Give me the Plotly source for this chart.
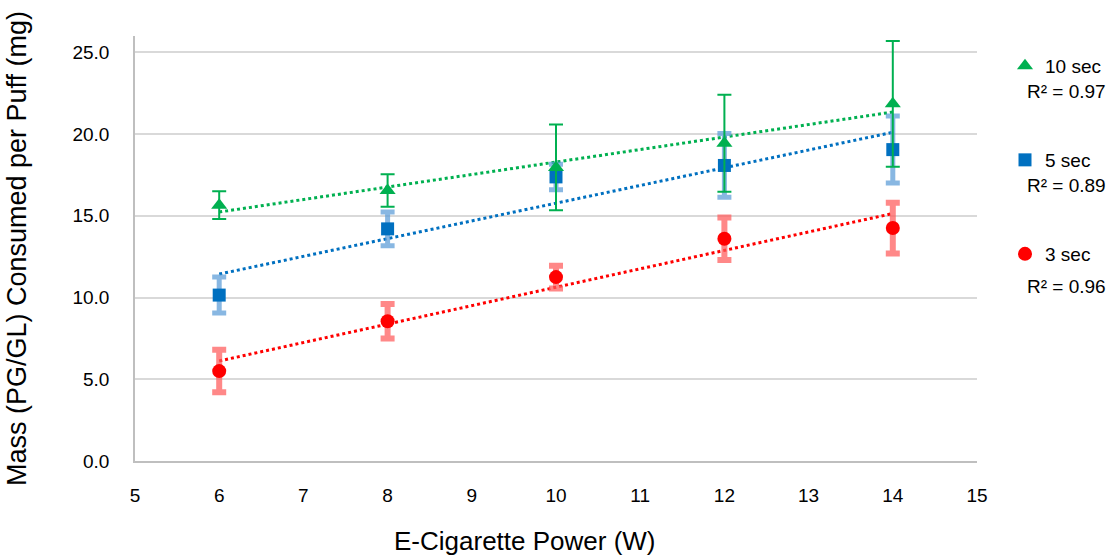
import numpy as np
import plotly.graph_objects as go

# E-cigarette power settings (W)
power = [6, 8, 10, 12, 14]

# Mean mass consumed per puff (mg) and standard deviations, by puff duration
mass_3s = [5.5, 8.55, 11.25, 13.6, 14.25]
err_3s = [1.3, 1.05, 0.7, 1.3, 1.55]

mass_5s = [10.15, 14.2, 17.38, 18.08, 19.05]
err_5s = [1.1, 1.03, 0.78, 1.95, 2.05]

mass_10s = [15.65, 16.55, 17.96, 19.44, 21.85]
err_10s = [0.85, 1.0, 2.62, 2.97, 3.85]

series_names = ["3 sec", "5 sec", "10 sec"]
r2_labels = ["R² = 0.96", "R² = 0.89", "R² = 0.97"]

y_ticks = [0, 5, 10, 15, 20, 25]
x_ticks = list(range(5, 16))

FONT = "Liberation Sans, Arial, sans-serif"
GREEN = "#00b050"
BLUE = "#0070c0"
RED = "#ff0000"

# plot-area geometry in pixels
W, H = 1110, 558
ML, MR, MT, MB = 135, 133, 36, 97
PW, PH = W - ML - MR, H - MT - MB

fig = go.Figure()

series = [
    (mass_3s, err_3s, RED, "rgba(255,90,90,0.72)", 6, "circle", 14, "legend3"),
    (mass_5s, err_5s, BLUE, "rgba(90,155,215,0.72)", 5, "square", 13, "legend2"),
    (mass_10s, err_10s, GREEN, GREEN, 2, "triangle-up", 14, "legend"),
]

# Linear trend lines (dotted), fitted to the mean values
for (ys, _, color, *_rest) in series:
    slope, intercept = np.polyfit(power, ys, 1)
    xs = np.array([power[0], power[-1]])
    fig.add_trace(go.Scatter(
        x=xs, y=slope * xs + intercept, mode="lines",
        line=dict(color=color, width=3, dash="dot"),
        showlegend=False, hoverinfo="skip",
    ))

# Mean values with error bars
for name, (ys, errs, color, ecolor, ethick, symbol, msize, leg) in zip(series_names, series):
    fig.add_trace(go.Scatter(
        x=power, y=ys, mode="markers", name=name,
        marker=dict(color=color, symbol=symbol, size=msize, line=dict(width=0)),
        error_y=dict(type="data", array=errs, visible=True,
                     color=ecolor, thickness=ethick, width=7),
        legend=leg,
    ))

legend_common = dict(
    font=dict(family=FONT, size=19, color="#000000"),
    bgcolor="rgba(0,0,0,0)", borderwidth=0,
    xref="container", yref="container",
    xanchor="left", yanchor="middle",
    itemwidth=30, tracegroupgap=0,
)
LEG_X = 1005 / W

fig.update_layout(
    width=W, height=H,
    margin=dict(l=ML, r=MR, t=MT, b=MB, autoexpand=False),
    paper_bgcolor="white", plot_bgcolor="white",
    font=dict(family=FONT, size=19, color="#000000"),
    legend=dict(x=LEG_X, y=1 - 66 / H, **legend_common),
    legend2=dict(x=LEG_X, y=1 - 160 / H, **legend_common),
    legend3=dict(x=LEG_X, y=1 - 254 / H, **legend_common),
    xaxis=dict(
        range=[5, 15], tickvals=x_ticks, showgrid=False, zeroline=False,
        showline=True, linecolor="#bfbfbf", linewidth=1.5,
        ticks="", ticklabelstandoff=16, automargin=False,
        tickfont=dict(family=FONT, size=19),
    ),
    yaxis=dict(
        range=[0, 26], tickvals=y_ticks, tickformat=".1f",
        showgrid=True, gridcolor="#d9d9d9", gridwidth=2, zeroline=False,
        showline=True, linecolor="#bfbfbf", linewidth=1.5,
        ticks="", ticklabelstandoff=20, automargin=False,
        tickfont=dict(family=FONT, size=19),
        title=dict(text="Mass (PG/GL) Consumed per Puff (mg)", standoff=38,
                   font=dict(family=FONT, size=27)),
    ),
)

# x-axis title, set slightly left of the plot centre
fig.add_annotation(
    text="E-Cigarette Power (W)", xref="paper", yref="paper",
    x=(525 - ML) / PW, y=(H - MB - 541) / PH,
    xanchor="center", yanchor="middle", showarrow=False,
    font=dict(family=FONT, size=26, color="#000000"),
)

# R² values of the trend lines, below each legend entry
for label, ypx in zip(r2_labels[::-1], [91, 185, 286]):
    fig.add_annotation(
        text=label, xref="paper", yref="paper",
        x=(1025 - ML) / PW, y=(H - MB - ypx) / PH,
        xanchor="left", yanchor="middle", showarrow=False,
        font=dict(family=FONT, size=19, color="#000000"),
    )

fig.write_html("out.html")
